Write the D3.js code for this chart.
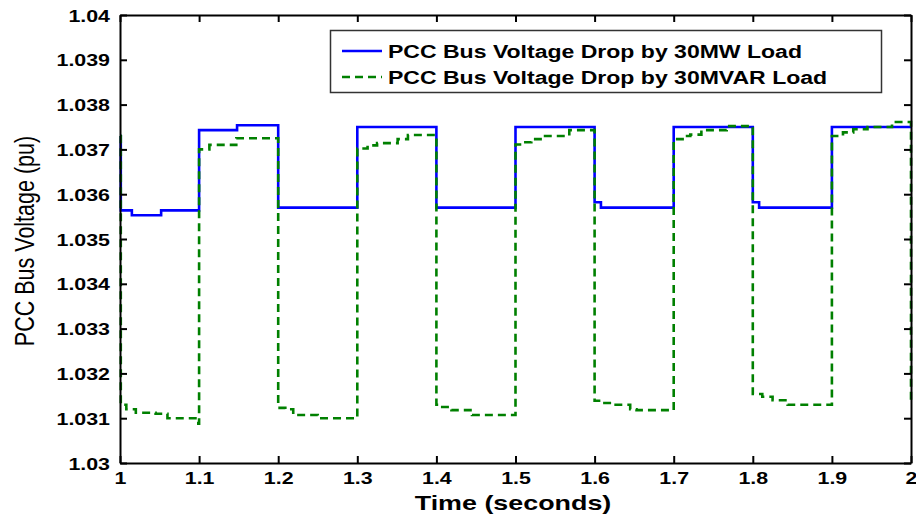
<!DOCTYPE html>
<html>
<head>
<meta charset="utf-8">
<script src="https://cdn.jsdelivr.net/npm/d3@7"></script>
<style>
  html, body { margin: 0; padding: 0; background: #fff; }
  svg { display: block; }
  text { font-family: "Liberation Sans", Arial, sans-serif; }
</style>
</head>
<body>
<svg id="chart" width="916" height="518"></svg>
<script>
// ---- Data ----
const seriesNames = ["PCC Bus Voltage Drop by 30MW Load", "PCC Bus Voltage Drop by 30MVAR Load"];

const mwTime = [1.000, 1.001, 1.015, 1.052, 1.100, 1.148, 1.200, 1.300, 1.400, 1.500, 1.600, 1.608, 1.700, 1.800, 1.808, 1.900, 2.000];
const mwVolt = [1.0373, 1.03564, 1.03553, 1.03564, 1.03743, 1.03754, 1.0357, 1.0375, 1.0357, 1.0375, 1.03582, 1.0357, 1.0375, 1.03582, 1.0357, 1.0375, 1.0375];

const mvarTime = [1.000, 1.001, 1.008, 1.020, 1.045, 1.060, 1.099,
                  1.100, 1.113, 1.147,
                  1.200, 1.209, 1.219, 1.250,
                  1.300, 1.313, 1.325, 1.351, 1.364,
                  1.400, 1.405, 1.419, 1.445,
                  1.500, 1.508, 1.520, 1.534, 1.568,
                  1.600, 1.610, 1.622, 1.645, 1.653,
                  1.700, 1.713, 1.721, 1.735, 1.767,
                  1.800, 1.812, 1.825, 1.844,
                  1.900, 1.914, 1.927, 1.945, 1.976,
                  2.000];
const mvarVolt = [1.0373, 1.0313, 1.0312, 1.03112, 1.0311, 1.0310, 1.03088,
                  1.0370, 1.0371, 1.03725,
                  1.03123, 1.0312, 1.03107, 1.0310,
                  1.03702, 1.03709, 1.03714, 1.03723, 1.03732,
                  1.0313, 1.03125, 1.03118, 1.03107,
                  1.03711, 1.03716, 1.03723, 1.0373, 1.03743,
                  1.03139, 1.03134, 1.0313, 1.0312, 1.03118,
                  1.03723, 1.0373, 1.03733, 1.03743, 1.03752,
                  1.03154, 1.03148, 1.0314, 1.0313,
                  1.0373, 1.03738, 1.03745, 1.0375, 1.03761,
                  1.0313];

const xTickValues = [1, 1.1, 1.2, 1.3, 1.4, 1.5, 1.6, 1.7, 1.8, 1.9, 2];
const xTickLabels = ["1", "1.1", "1.2", "1.3", "1.4", "1.5", "1.6", "1.7", "1.8", "1.9", "2"];
const yTickValues = [1.03, 1.031, 1.032, 1.033, 1.034, 1.035, 1.036, 1.037, 1.038, 1.039, 1.04];
const yTickLabels = ["1.03", "1.031", "1.032", "1.033", "1.034", "1.035", "1.036", "1.037", "1.038", "1.039", "1.04"];

const xTitle = "Time (seconds)";
const yTitle = "PCC Bus Voltage (pu)";

// ---- Layout ----
const svg = d3.select("#chart");
const L = 120, R = 911, T = 15, B = 463;
const stretch = 1.28;

const x = d3.scaleLinear().domain([1, 2]).range([L, R]);
const y = d3.scaleLinear().domain([1.03, 1.04]).range([B, T]);

// ---- Lines ----
const line = d3.line().x(d => x(d[0])).y(d => y(d[1])).curve(d3.curveStepAfter);
const mwData = mwTime.map((t, i) => [t, mwVolt[i]]);
const mvarData = mvarTime.map((t, i) => [t, mvarVolt[i]]);

svg.append("path").attr("d", line(mwData))
  .attr("fill", "none").attr("stroke", "#0000ff").attr("stroke-width", 2.6);
svg.append("path").attr("d", line(mvarData))
  .attr("fill", "none").attr("stroke", "#008000").attr("stroke-width", 2.6)
  .attr("stroke-dasharray", "8,5");

// ---- Axes ----
function styleAxis(g) {
  g.selectAll("path").attr("stroke", "#000").attr("stroke-width", 2);
  g.selectAll("line").attr("stroke", "#000").attr("stroke-width", 2);
}
const fontTick = 16.7;

const gx = svg.append("g").attr("transform", `translate(0,${B})`)
  .call(d3.axisBottom(x).tickValues(xTickValues).tickFormat((d, i) => xTickLabels[i])
    .tickSizeInner(-7).tickSizeOuter(0));
styleAxis(gx);
gx.selectAll("text").attr("y", 0).attr("dy", "0.71em")
  .attr("transform", `translate(0,9) scale(${stretch},1)`)
  .attr("font-size", fontTick).attr("font-weight", "bold").attr("fill", "#000")
  .attr("font-family", "Liberation Sans, Arial, sans-serif");

const gy = svg.append("g").attr("transform", `translate(${L},0)`)
  .call(d3.axisLeft(y).tickValues(yTickValues).tickFormat((d, i) => yTickLabels[i])
    .tickSizeInner(-7).tickSizeOuter(0));
styleAxis(gy);
gy.selectAll("text").attr("x", 0).attr("dy", "0.36em")
  .attr("transform", `translate(-10,0) scale(${stretch},1)`)
  .attr("font-size", fontTick).attr("font-weight", "bold").attr("fill", "#000")
  .attr("font-family", "Liberation Sans, Arial, sans-serif");

const gt = svg.append("g").attr("transform", `translate(0,${T})`)
  .call(d3.axisTop(x).tickValues(xTickValues).tickFormat("").tickSizeInner(-7).tickSizeOuter(0));
styleAxis(gt);
const gr = svg.append("g").attr("transform", `translate(${R},0)`)
  .call(d3.axisRight(y).tickValues(yTickValues).tickFormat("").tickSizeInner(-7).tickSizeOuter(0));
styleAxis(gr);

// ---- Titles ----
svg.append("text").text(xTitle)
  .attr("text-anchor", "middle")
  .attr("transform", `translate(513,510) scale(${stretch},1)`)
  .attr("font-size", 21).attr("font-weight", "bold").attr("fill", "#000");

svg.append("text").text(yTitle)
  .attr("text-anchor", "middle")
  .attr("transform", `translate(34,241) scale(${stretch},1) rotate(-90)`)
  .attr("font-size", 21.5).attr("fill", "#000");

// ---- Legend ----
const lg = svg.append("g");
lg.append("rect").attr("x", 330.5).attr("y", 30.5).attr("width", 551).attr("height", 62)
  .attr("fill", "#fff").attr("stroke", "#333").attr("stroke-width", 1.5);
const legendRows = [
  { name: seriesNames[0], color: "#0000ff", dash: null, y: 51 },
  { name: seriesNames[1], color: "#008000", dash: "8,5", y: 77 }
];
legendRows.forEach(r => {
  lg.append("line").attr("x1", 342).attr("x2", 382).attr("y1", r.y).attr("y2", r.y)
    .attr("stroke", r.color).attr("stroke-width", 2.6)
    .attr("stroke-dasharray", r.dash);
  lg.append("text").text(r.name)
    .attr("transform", `translate(388,${r.y + 7}) scale(${stretch},1)`)
    .attr("font-size", 18).attr("font-weight", "bold").attr("fill", "#000");
});
</script>
</body>
</html>
